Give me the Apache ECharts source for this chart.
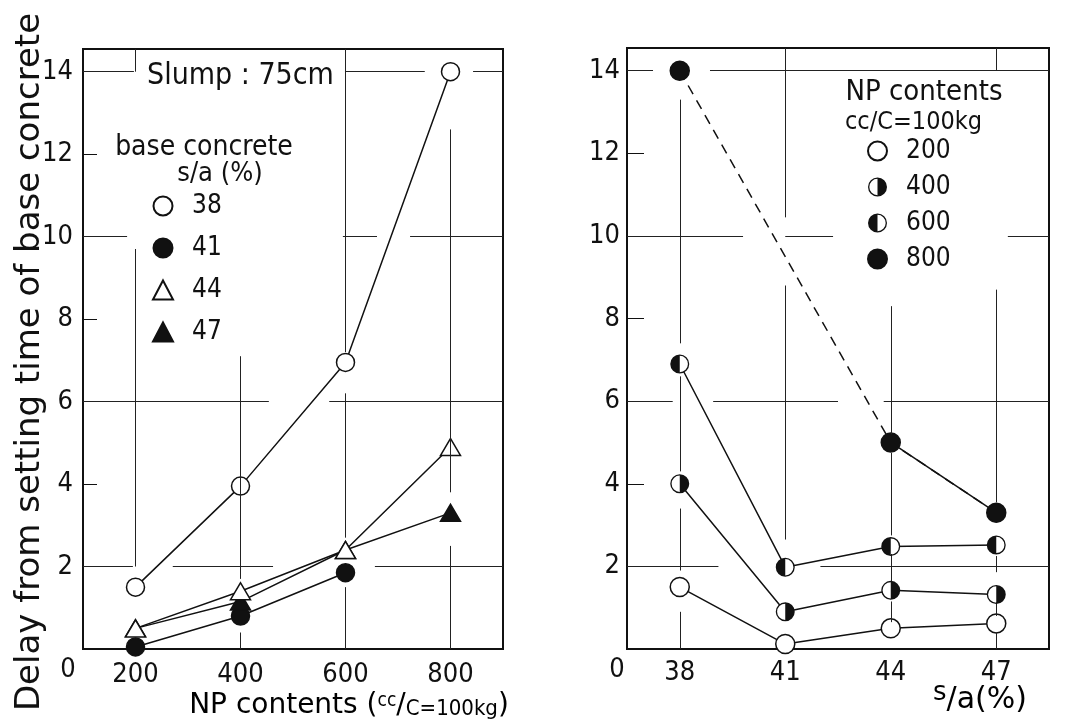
<!DOCTYPE html>
<html>
<head>
<meta charset="utf-8">
<script src="https://cdn.jsdelivr.net/npm/echarts@6/dist/echarts.min.js"></script>
<style>
  html, body { margin: 0; padding: 0; background: #fff; }
  #chart { width: 1070px; height: 724px; }
</style>
</head>
<body>
<div id="chart"></div>
<script>
// NP dosage (cc per C = 100 kg) on the left panel's x-axis
const npContents = [200, 400, 600, 800];
// s/a of the base concrete (%) on the right panel's x-axis
const sandRatios = [38, 41, 44, 47];
// value-axis tick labels shared by both panels
const delayTicks = [2, 4, 6, 8, 10, 12, 14];

// Delay (h) against NP contents, one series per base concrete s/a
const delaySa38 = [1.5, 3.95, 6.95, 14.0];
const delaySa41 = [0.05, 0.8, 1.85, null];
const delaySa44 = [0.5, 1.4, 2.4, 4.9];
const delaySa47 = [0.5, 1.15, 2.4, 3.3];

// Delay (h) against s/a, one series per NP content
const delayNp200 = [1.5, 0.12, 0.5, 0.62];
const delayNp400 = [4.0, 0.9, 1.42, 1.32];
const delayNp600 = [6.9, 1.98, 2.48, 2.52];
const delayNp800 = [14.0, null, 5.0, 3.3];

// Interrupted grid rules, in axis units: [at, from, to]
const leftHRules = [[14,100,197],[14,599,751],[14,843,900],[10,100,184],[10,595,660],[10,723,900],
  [6,100,454],[6,569,900],[2,100,195],[2,271,462],[2,656,900]];
const leftVRules = [[200,14,14.55],[200,2.0,9.7],[400,1.7,7.1],[400,0,0.4],[600,7.2,14.55],[600,2.7,6.2],
  [600,0,1.5],[800,3.8,12.6],[800,0,2.5]];
const rightHRules = [[14,36.5,37.24],[14,38.86,48.5],[10,36.5,39.8],[10,41.0,42.36],[10,47.33,48.5],
  [6,36.5,37.8],[6,38.95,42.5],[6,43.8,48.5],[2,36.5,39.1],[2,42.0,48.5]];
const rightVRules = [[38,7.4,13.3],[38,4.3,6.6],[38,1.9,3.4],[38,0,0.9],[41,10.45,14.55],[41,2.65,8.8],
  [44,5.2,8.3],[44,2.75,4.75],[44,1.6,2.3],[44,0.65,1.15],[47,14,14.55],[47,3.55,8.7],[47,1.86,2.25],
  [47,0.8,1.13],[47,0,0.4]];

const NARROW = "'DejaVu Sans Condensed','Liberation Sans Narrow','Liberation Sans',sans-serif";
const WIDE = "'DejaVu Sans','Liberation Sans',sans-serif";
const INK = '#111';
const Y_MAX = 14.55;

// half-filled circle markers: right half black, left half black
const HALF_RIGHT = 'path://M0,-10A10,10,0,1,1,0,10A10,10,0,1,1,0,-10ZM0,-8.6A8.6,8.6,0,0,0,0,8.6Z';
const HALF_LEFT = 'path://M0,-10A10,10,0,1,1,0,10A10,10,0,1,1,0,-10ZM0,-8.6L0,8.6A8.6,8.6,0,0,0,0,-8.6Z';

const pairs = (xs, ys) => xs.map((x, i) => [x, ys[i]]);

function rules(h, v, idx) {
  const data = [];
  h.forEach(([y, a, b]) => data.push([{ coord: [a, y] }, { coord: [b, y] }]));
  v.forEach(([x, a, b]) => data.push([{ coord: [x, a] }, { coord: [x, b] }]));
  return {
    type: 'line', xAxisIndex: idx, yAxisIndex: idx, data: [], z: 1, silent: true,
    markLine: {
      silent: true, symbol: ['none', 'none'], label: { show: false },
      lineStyle: { color: '#222', width: 1, type: 'solid' }, emphasis: { disabled: true },
      data
    }
  };
}

function plotLine(name, idx, xs, ys, symbol, size, fill, extra) {
  return Object.assign({
    name, type: 'line', xAxisIndex: idx, yAxisIndex: idx,
    data: pairs(xs, ys), symbol, symbolSize: size, showSymbol: true, z: 3,
    lineStyle: { color: INK, width: 1.5 },
    itemStyle: { color: fill, borderColor: INK, borderWidth: 1.5, opacity: 1 },
    emphasis: { disabled: true }
  }, extra || {});
}

function halfMarks(name, ys, path) {
  return {
    name, type: 'scatter', xAxisIndex: 1, yAxisIndex: 1, data: pairs(sandRatios, ys),
    symbol: path, symbolSize: 19, z: 5, itemStyle: { color: INK, opacity: 1 }, emphasis: { disabled: true }
  };
}

const valueAxis = (idx, margin, tickLen) => ({
  type: 'value', gridIndex: idx, min: 0, max: Y_MAX, interval: 2,
  axisLine: { show: false },
  axisTick: { show: true, inside: true, length: tickLen, lineStyle: { color: INK, width: 1 } },
  splitLine: { show: false },
  axisLabel: {
    margin, color: INK, fontFamily: NARROW, fontSize: 27,
    formatter: v => (delayTicks.includes(v) ? String(v) : '')
  }
});

const chart = echarts.init(document.getElementById('chart'), null, { renderer: 'canvas' });

chart.setOption({
  animation: false,
  backgroundColor: '#fff',
  grid: [
    { left: 83, top: 49, width: 420, height: 600, show: true, borderColor: INK, borderWidth: 2, backgroundColor: 'transparent' },
    { left: 627, top: 48, width: 422, height: 601, show: true, borderColor: INK, borderWidth: 2, backgroundColor: 'transparent' }
  ],
  xAxis: [
    {
      type: 'value', gridIndex: 0, min: 100, max: 900, interval: 100,
      axisLine: { show: false }, axisTick: { show: false }, splitLine: { show: false },
      axisLabel: { margin: 12, color: INK, fontFamily: NARROW, fontSize: 27,
        formatter: v => (npContents.includes(v) ? String(v) : '') }
    },
    {
      type: 'value', gridIndex: 1, min: 36.5, max: 48.5, interval: 0.5,
      axisLine: { show: false }, axisTick: { show: false }, splitLine: { show: false },
      axisLabel: { margin: 10, color: INK, fontFamily: NARROW, fontSize: 27,
        formatter: v => (sandRatios.includes(v) ? String(v) : '') }
    }
  ],
  yAxis: [valueAxis(0, 10, 14), valueAxis(1, 7, 17)],
  legend: [
    {
      orient: 'vertical', left: 147, top: 188, itemWidth: 20, itemHeight: 19, itemGap: 16,
      textStyle: { color: INK, fontFamily: NARROW, fontSize: 26, padding: [0, 0, 0, 14] },
      backgroundColor: 'transparent', selectedMode: false,
      data: [
        { name: '38', icon: 'circle' },
        { name: '41', icon: 'circle' },
        { name: '44', icon: 'triangle' },
        { name: '47', icon: 'triangle' }
      ]
    },
    {
      orient: 'vertical', left: 862, top: 133, itemWidth: 19, itemHeight: 19, itemGap: 10,
      textStyle: { color: INK, fontFamily: NARROW, fontSize: 26, padding: [0, 0, 0, 14] },
      backgroundColor: 'transparent', selectedMode: false,
      data: [
        { name: '200', icon: 'circle' },
        { name: '400', icon: HALF_RIGHT, itemStyle: { borderWidth: 0 } },
        { name: '600', icon: HALF_LEFT, itemStyle: { borderWidth: 0 } },
        { name: '800', icon: 'circle' }
      ]
    }
  ],
  series: [
    rules(leftHRules, leftVRules, 0),
    rules(rightHRules, rightVRules, 1),

    plotLine('38', 0, npContents, delaySa38, 'circle', 18, '#fff'),
    plotLine('41', 0, npContents, delaySa41, 'circle', 18, INK),
    plotLine('47', 0, npContents, delaySa47, 'triangle', [20, 17], INK),
    plotLine('44', 0, npContents, delaySa44, 'triangle', [20, 17], '#fff'),

    halfMarks('400', delayNp400, HALF_RIGHT),
    halfMarks('600', delayNp600, HALF_LEFT),
    plotLine('200', 1, sandRatios, delayNp200, 'circle', 19, '#fff'),
    plotLine('400', 1, sandRatios, delayNp400, 'circle', 18, '#fff', { itemStyle: { color: '#fff', borderWidth: 0 } }),
    plotLine('600', 1, sandRatios, delayNp600, 'circle', 18, '#fff', { itemStyle: { color: '#fff', borderWidth: 0 } }),
    plotLine('800', 1, sandRatios, delayNp800, 'circle', 19, INK, { z: 4 }),
    // the 38 -> 44 stretch of the 800 curve is drawn dashed across the missing 41 point
    plotLine('800', 1, sandRatios, delayNp800, 'none', 0, INK,
      { connectNulls: true, z: 2, lineStyle: { color: INK, width: 1.5, type: [10, 7] } })
  ],
  graphic: [
    { type: 'text', x: 30, y: 362, rotation: Math.PI / 2,
      style: { text: 'Delay from setting time of base concrete', fill: INK, font: `34px ${WIDE}`, align: 'center', verticalAlign: 'middle' } },
    { type: 'text', x: 68, y: 670, style: { text: '0', fill: INK, font: `27px ${NARROW}`, align: 'center', verticalAlign: 'middle' } },
    { type: 'text', x: 617, y: 670, style: { text: '0', fill: INK, font: `27px ${NARROW}`, align: 'center', verticalAlign: 'middle' } },
    { type: 'text', x: 147, y: 76, style: { text: 'Slump : 75cm', fill: INK, font: `30px ${NARROW}`, align: 'left', verticalAlign: 'middle' } },
    { type: 'text', x: 204, y: 148, style: { text: 'base concrete', fill: INK, font: `28px ${NARROW}`, align: 'center', verticalAlign: 'middle' } },
    { type: 'text', x: 220, y: 174, style: { text: 's/a (%)', fill: INK, font: `27px ${NARROW}`, align: 'center', verticalAlign: 'middle' } },
    { type: 'text', x: 924, y: 92, style: { text: 'NP contents', fill: INK, font: `29px ${NARROW}`, align: 'center', verticalAlign: 'middle' } },
    { type: 'text', x: 845, y: 122, style: { text: 'cc/C=100kg', fill: INK, font: `25px ${NARROW}`, align: 'left', verticalAlign: 'middle' } },
    { type: 'text', x: 349, y: 706, style: {
        text: '{a|NP contents (}{s|cc}{a|/}{b|C=100kg}{a|)}', align: 'center', verticalAlign: 'middle',
        rich: {
          a: { fontFamily: WIDE, fontSize: 28, color: INK, verticalAlign: 'bottom' },
          s: { fontFamily: NARROW, fontSize: 19, color: INK, verticalAlign: 'top' },
          b: { fontFamily: NARROW, fontSize: 22, color: INK, verticalAlign: 'bottom' }
        } } },
    { type: 'text', x: 980, y: 698, style: {
        text: '{s|s}{a|/a(%)}', align: 'center', verticalAlign: 'middle',
        rich: {
          a: { fontFamily: WIDE, fontSize: 30, color: INK, verticalAlign: 'bottom' },
          s: { fontFamily: WIDE, fontSize: 26, color: INK, verticalAlign: 'top', padding: [0, 0, 9, 0] }
        } } }
  ]
});
</script>
</body>
</html>
